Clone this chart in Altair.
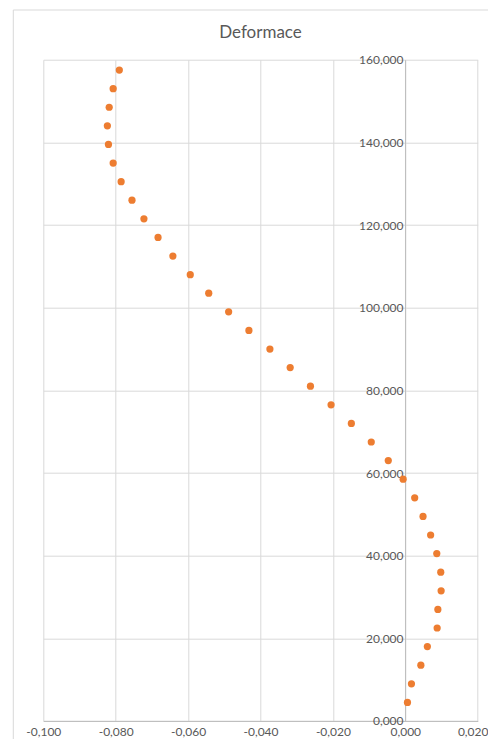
import altair as alt
import pandas as pd

# Deformation (x) vs height (y)
heights = [157.5, 153.0, 148.5, 144.0, 139.5, 135.0, 130.5, 126.0, 121.5, 117.0,
           112.5, 108.0, 103.5, 99.0, 94.5, 90.0, 85.5, 81.0, 76.5, 72.0,
           67.5, 63.0, 58.5, 54.0, 49.5, 45.0, 40.5, 36.0, 31.5, 27.0,
           22.5, 18.0, 13.5, 9.0, 4.5]
deform = [-0.0790, -0.0807, -0.0818, -0.0823, -0.0820, -0.0807, -0.0785, -0.0755, -0.0722, -0.0683,
          -0.0642, -0.0594, -0.0543, -0.0488, -0.0432, -0.0374, -0.0318, -0.0262, -0.0205, -0.0149,
          -0.0094, -0.0047, -0.0006, 0.0026, 0.0049, 0.0070, 0.0087, 0.0098, 0.0099, 0.0090,
          0.0088, 0.0061, 0.0043, 0.0017, 0.0006]
x_ticks = [-0.1, -0.08, -0.06, -0.04, -0.02, 0.0, 0.02]
y_ticks = [0, 20, 40, 60, 80, 100, 120, 140, 160]
title_text = "Deformace"

df = pd.DataFrame({"x": deform, "y": heights})

W, H = 434.4, 661.3
FONT = "Lato"
TXT = "#595959"
label_expr = "replace(replace(format(datum.value, '.3f'), '.', ','), '\u2212', '-')"

frame = alt.Chart(pd.DataFrame({"a": [0]})).mark_rect(
    fill="transparent", stroke="#d9d9d9", strokeWidth=1
).encode(
    x=alt.value(-30), x2=alt.value(520),
    y=alt.value(-49.7), y2=alt.value(760)
)

points = alt.Chart(df).mark_circle(size=52, color="#ED7D31", opacity=1).encode(
    x=alt.X("x:Q",
            scale=alt.Scale(domain=[-0.1, 0.02], nice=False, zero=False),
            axis=alt.Axis(values=x_ticks, labelExpr=label_expr, title=None,
                          grid=True, gridColor="#d9d9d9", ticks=False, tickSize=0,
                          domainColor="#bfbfbf", labelColor=TXT, labelFont=FONT,
                          labelFontSize=12, labelPadding=6, labelFlush=False,
                          labelOffset={"condition": {"test": "datum.value > 0.019", "value": -5},
                                       "value": 0})),
    y=alt.Y("y:Q",
            scale=alt.Scale(domain=[0, 160], nice=False),
            axis=alt.Axis(values=y_ticks, labelExpr=label_expr, title=None,
                          grid=True, gridColor="#d9d9d9", ticks=False, tickSize=0,
                          domainColor="#bfbfbf", labelColor=TXT, labelFont=FONT,
                          labelFontSize=12, labelPadding=2, offset=-361.7,
                          labelFlush=False))
)

chart = alt.layer(frame, points).properties(
    width=W, height=H,
    title=alt.TitleParams(title_text, font=FONT, fontSize=17, fontWeight="normal",
                          color=TXT, anchor="middle", offset=-32),
    autosize=alt.AutoSizeParams(type="none"),
    padding={"left": 35.3, "top": 51.7, "right": 10, "bottom": 18},
    background="white",
).configure_view(stroke="transparent")

chart.save("out.html", embed_options={"renderer": "svg", "actions": False})
